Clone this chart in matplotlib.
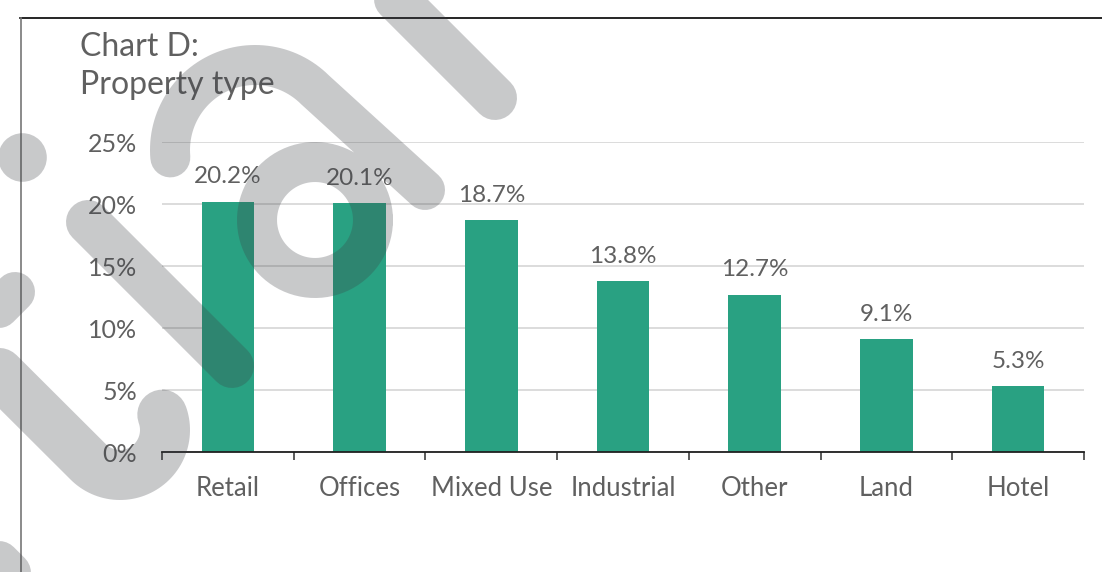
import numpy as np
import matplotlib.pyplot as plt
from matplotlib.lines import Line2D

plt.rcParams['font.family'] = ['Lato', 'DejaVu Sans']

categories = ["Retail", "Offices", "Mixed Use", "Industrial", "Other", "Land", "Hotel"]
shares = [20.2, 20.1, 18.7, 13.8, 12.7, 9.1, 5.3]
y_ticks = [0, 5, 10, 15, 20, 25]

bar_color = "#29a182"
text_color = "#606060"
W, H = 1102, 572

fig = plt.figure(figsize=(W / 100, H / 100), dpi=100)
ax = fig.add_axes([162 / W, 120 / H, 922 / W, 310 / H])

x = np.arange(len(categories))
bars = ax.bar(x, shares, width=0.4, color=bar_color, zorder=3)
for b, v in zip(bars, shares):
    ax.annotate(f"{v:.1f}%", (b.get_x() + b.get_width() / 2, v),
                xytext=(0, 13), textcoords="offset points",
                ha="center", va="baseline", fontsize=17.5, color=text_color)

ax.set_xlim(-0.5, len(categories) - 0.5)
ax.set_ylim(0, 25)
ax.set_yticks(y_ticks)
ax.set_yticklabels([f"{t}%" for t in y_ticks])
ax.set_xticks(x)
ax.set_xticklabels(categories)
ax.set_xticks(np.arange(len(categories) + 1) - 0.5, minor=True)
ax.tick_params(axis="x", which="major", length=0, pad=17, labelsize=18.5, labelcolor=text_color)
ax.tick_params(axis="x", which="minor", length=6, width=1.2, color="#404040", direction="out")
ax.tick_params(axis="y", length=0, pad=18, labelsize=18, labelcolor=text_color)
ax.grid(axis="y", color="#d9d9d9", linewidth=1.3, zorder=0)
for s in ["top", "right", "left"]:
    ax.spines[s].set_visible(False)
ax.spines["bottom"].set_color("#202020")
ax.spines["bottom"].set_linewidth(1.3)
ax.spines["bottom"].set_zorder(4)

fig.text(80 / W, 1 - 56 / H, "Chart D:", fontsize=23, color=text_color, va="baseline")
fig.text(80 / W, 1 - 94 / H, "Property type", fontsize=23, color=text_color, va="baseline")

# frame lines
fig.add_artist(Line2D([20 / W, 1], [1 - 18 / H, 1 - 18 / H], color="black", lw=1.2))
fig.add_artist(Line2D([21 / W, 21 / W], [0, 1 - 18 / H], color="#777777", lw=1.2))

# watermark overlay (pixel coords, y down)
wax = fig.add_axes([0, 0, 1, 1], zorder=5)
wax.set_xlim(0, W)
wax.set_ylim(H, 0)
wax.axis("off")
wm = dict(color=(60 / 255, 62 / 255, 68 / 255), alpha=0.28,
          solid_capstyle="round", solid_joinstyle="round")
px = 0.72


def arc(cx, cy, r, t0, t1, n=60):
    t = np.radians(np.linspace(t0, t1, n))
    return cx + r * np.cos(t), cy - r * np.sin(t)


# "a": arc + stem + bowl in one path
ax1, ay1 = arc(255, 150, 85, 185, 45)
bx, by = arc(315, 220, 58, 0, 360, 90)
a_x = np.concatenate([ax1, [425], [np.nan], bx])
a_y = np.concatenate([ay1, [190], [np.nan], by])
wax.plot(a_x, a_y, lw=40 * px, **wm)
# "l"
wax.plot([380, 495], [-17, 98], lw=44 * px, **wm)
# "i"
wax.plot([88, 232], [222, 366], lw=44 * px, **wm)
wax.plot([22], [157], marker="o", markersize=35, markeredgewidth=0, linestyle="none",
         color=wm["color"], alpha=wm["alpha"])
# "r"
hx, hy = arc(120, 430, 45, 225, 380)
wax.plot(np.concatenate([[-30], hx]), np.concatenate([[344], hy]), lw=50 * px, **wm)
wax.plot([15, -25], [292, 332], lw=40 * px, **wm)
# "T" fragment
wax.plot([-30, 70], [533, 633], lw=42 * px, **wm)

fig.savefig("out.png", dpi=100)
